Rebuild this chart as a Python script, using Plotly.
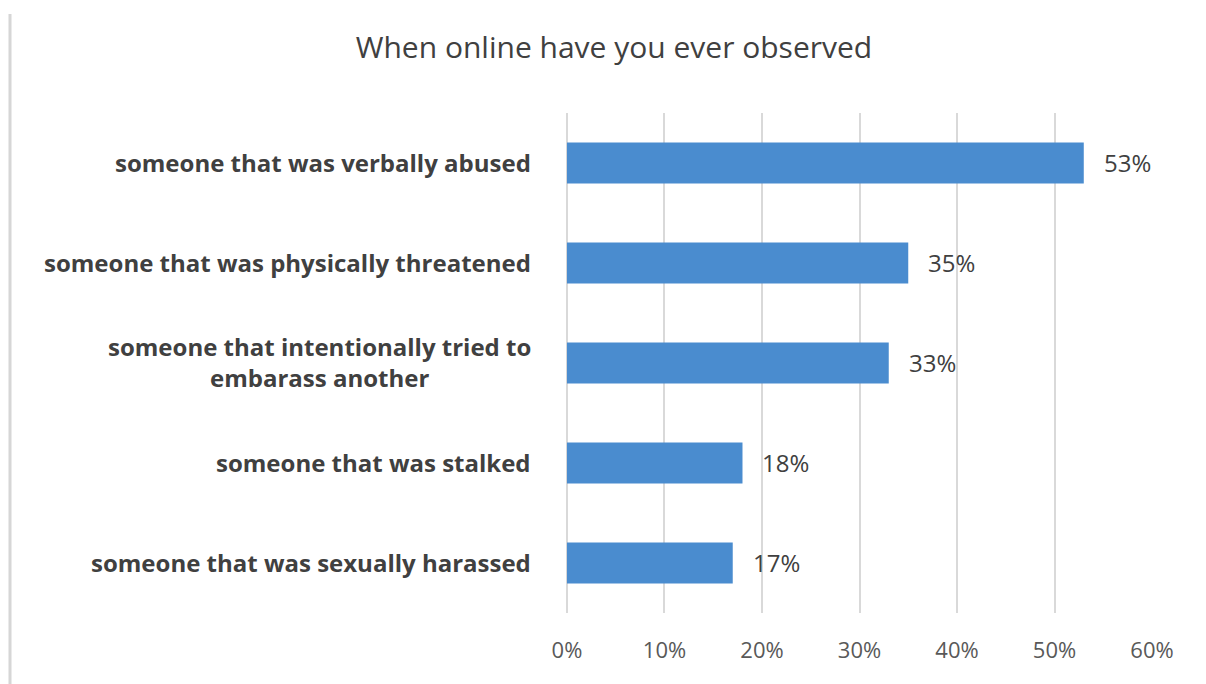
import plotly.graph_objects as go

categories = [
    "someone that was verbally abused",
    "someone that was physically threatened",
    "someone that intentionally tried to<br>embarass another",
    "someone that was stalked",
    "someone that was sexually harassed",
]
values = [53, 35, 33, 18, 17]
tick_values = [0, 10, 20, 30, 40, 50, 60]
tick_labels = ["0%", "10%", "20%", "30%", "40%", "50%", "60%"]
title_text = "When online have you ever observed"

W, H = 1206, 684
L, R, T, B = 566, 53, 113, 71

fig = go.Figure()

# gridline at 0% (plotly drops grid lines sitting on the plot edge)
fig.add_shape(
    type="line", xref="x", yref="paper", x0=0, x1=0, y0=0, y1=1,
    line=dict(color="#d9d9d9", width=2), layer="below",
)

fig.add_trace(go.Bar(
    x=values,
    y=categories,
    orientation="h",
    marker=dict(color="#4a8ccf", line=dict(width=0)),
    width=0.41,
    hoverinfo="skip",
))

# value labels to the right of each bar
for c, v in zip(categories, values):
    fig.add_annotation(
        x=v, y=c, xref="x", yref="y",
        text=f"{v}%", showarrow=False,
        xanchor="left", yanchor="middle", xshift=18, yshift=1,
        font=dict(family="Open Sans", size=24, color="#404040"),
    )

# category labels as centred annotations so wrapped lines stay centred
for c in categories:
    fig.add_annotation(
        x=0, y=c, xref="paper", yref="y",
        text=c, showarrow=False,
        xanchor="right", yanchor="middle", align="center",
        xshift=-33, yshift=1,
        font=dict(family="Open Sans", size=24, color="#404040", weight="bold"),
    )

# thin frame line on the left edge
fig.add_shape(
    type="line", xref="paper", yref="paper",
    x0=(10 - L) / (W - L - R), x1=(10 - L) / (W - L - R),
    y0=(H - B - 14) / (H - T - B), y1=-0.2,
    line=dict(color="#d6d6d6", width=3),
)

fig.update_layout(
    width=W, height=H,
    margin=dict(l=L, r=R, t=T, b=B),
    paper_bgcolor="white", plot_bgcolor="white",
    showlegend=False,
    title=dict(
        text=title_text, x=614 / W, xanchor="center", y=1 - 47 / H, yanchor="middle",
        font=dict(family="Open Sans", size=30, color="#404040"),
    ),
    xaxis=dict(
        range=[-0.1, 60.1], tickvals=tick_values, ticktext=tick_labels,
        showgrid=True, gridcolor="#d9d9d9", gridwidth=2,
        zeroline=False, showline=False, ticks="",
        ticklabelstandoff=22,
        tickfont=dict(family="Open Sans", size=22, color="#595959"),
        fixedrange=True,
    ),
    yaxis=dict(
        autorange="reversed", showticklabels=False, showgrid=False,
        zeroline=False, showline=False, ticks="",
        fixedrange=True,
    ),
)

fig.write_html("out.html")
